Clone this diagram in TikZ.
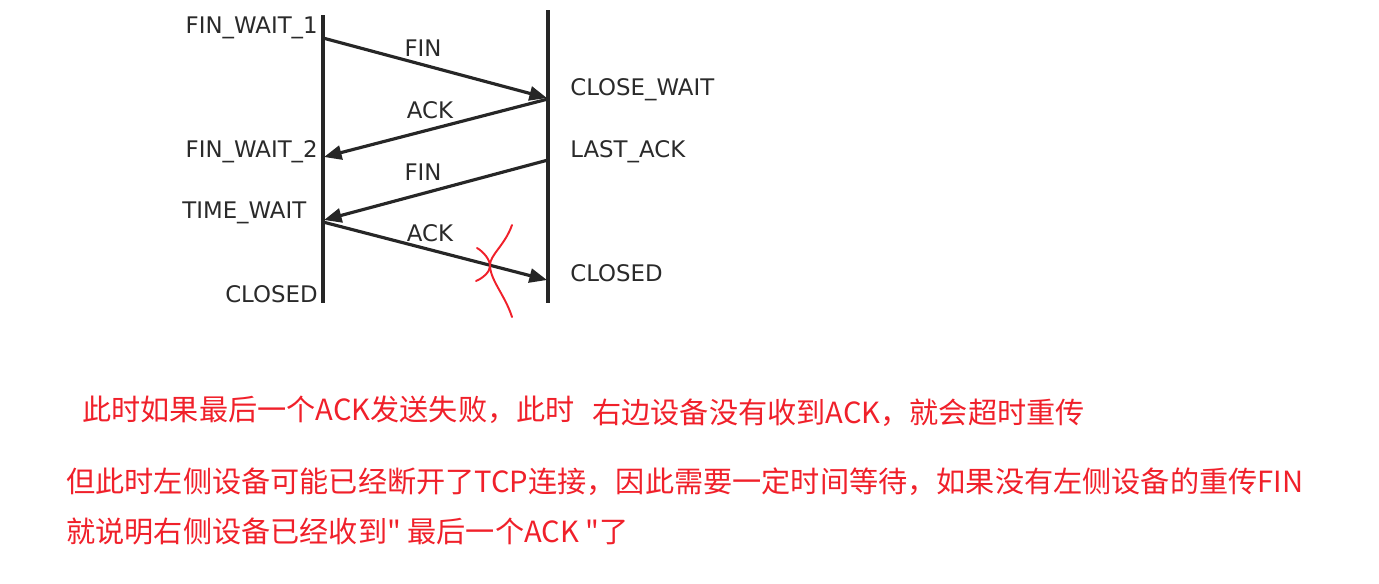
\documentclass[tikz,border=0pt]{standalone}
\usepackage{fontspec}
\setmainfont{DejaVu Sans}
\newfontfamily\cjk{Noto Sans CJK SC}
\usetikzlibrary{arrows.meta}
\definecolor{notered}{HTML}{F0202A}
\definecolor{stategrey}{HTML}{2A2A2A}

\begin{document}
\begin{tikzpicture}[x=0.02cm,y=-0.02cm,
  lifeline/.style={line width=2.4pt,black!85},
  msg/.style={-{Triangle[length=10pt,width=8pt]},line width=1.8pt,black!85},
  state/.style={font=\fontsize{13}{15}\selectfont,text=stategrey,inner sep=0pt},
  note/.style={font=\cjk\fontsize{16.6}{20}\selectfont,text=notered,anchor=west,inner sep=0pt}]
  \useasboundingbox (0,0) rectangle (1379,583);
  % Lifelines
  \coordinate (lefttop) at (323,15);
  \coordinate (leftbot) at (323,303);
  \coordinate (righttop) at (548,10);
  \coordinate (rightbot) at (548,303);
  \draw[lifeline] (lefttop) -- (leftbot);
  \draw[lifeline] (righttop) -- (rightbot);
  % Message end points
  \coordinate (fina) at (323,38);
  \coordinate (finb) at (547,98);
  \coordinate (acka) at (548,99);
  \coordinate (ackb) at (324,157);
  \coordinate (finc) at (548,160);
  \coordinate (find) at (324,220);
  \coordinate (ackc) at (323,222);
  \coordinate (ackd) at (547,280);
  % Messages
  \draw[msg] (fina) -- (finb);
  \draw[msg] (acka) -- (ackb);
  \draw[msg] (finc) -- (find);
  \draw[msg] (ackc) -- (ackd);
  \node[state] (finone) at (423,48) {FIN};
  \node[state] (ackone) at (430,110) {ACK};
  \node[state] (fintwo) at (423,172) {FIN};
  \node[state] (acktwo) at (430,233) {ACK};
  % Left states
  \node[state,anchor=east] (finwaitone) at (318,28) {FIN\_WAIT\_1};
  \node[state,anchor=east] (finwaittwo) at (318,152) {FIN\_WAIT\_2};
  \node[state,anchor=west] (timewait) at (182,213) {TIME\_WAIT};
  \node[state,anchor=east] (leftclosed) at (318,294) {CLOSED};
  % Right states
  \node[state,anchor=west] (closewait) at (570,90) {CLOSE\_WAIT};
  \node[state,anchor=west] (lastack) at (570,152) {LAST\_ACK};
  \node[state,anchor=west] (rightclosed) at (570,273) {CLOSED};
  % Red cross on the lost ACK
  \draw[notered,line width=1.1pt,line cap=round]
    (512,225) .. controls (505,245) and (490,255) .. (490,265)
    .. controls (490,280) and (505,295) .. (512,317);
  \draw[notered,line width=1.1pt,line cap=round]
    (477,248) .. controls (484,252) and (490,260) .. (490,266)
    .. controls (490,272) and (483,278) .. (476,281);
  % Notes
  \node[note] (noteone) at (82,410) {此时如果最后一个ACK发送失败，此时};
  \node[note] (notetwo) at (592,413) {右边设备没有收到ACK，就会超时重传};
  \node[note] (notethree) at (66,482) {但此时左侧设备可能已经断开了TCP连接，因此需要一定时间等待，如果没有左侧设备的重传FIN};
  \node[note] (notefour) at (66,531) {就说明右侧设备已经收到" 最后一个ACK "了};
\end{tikzpicture}
\end{document}
